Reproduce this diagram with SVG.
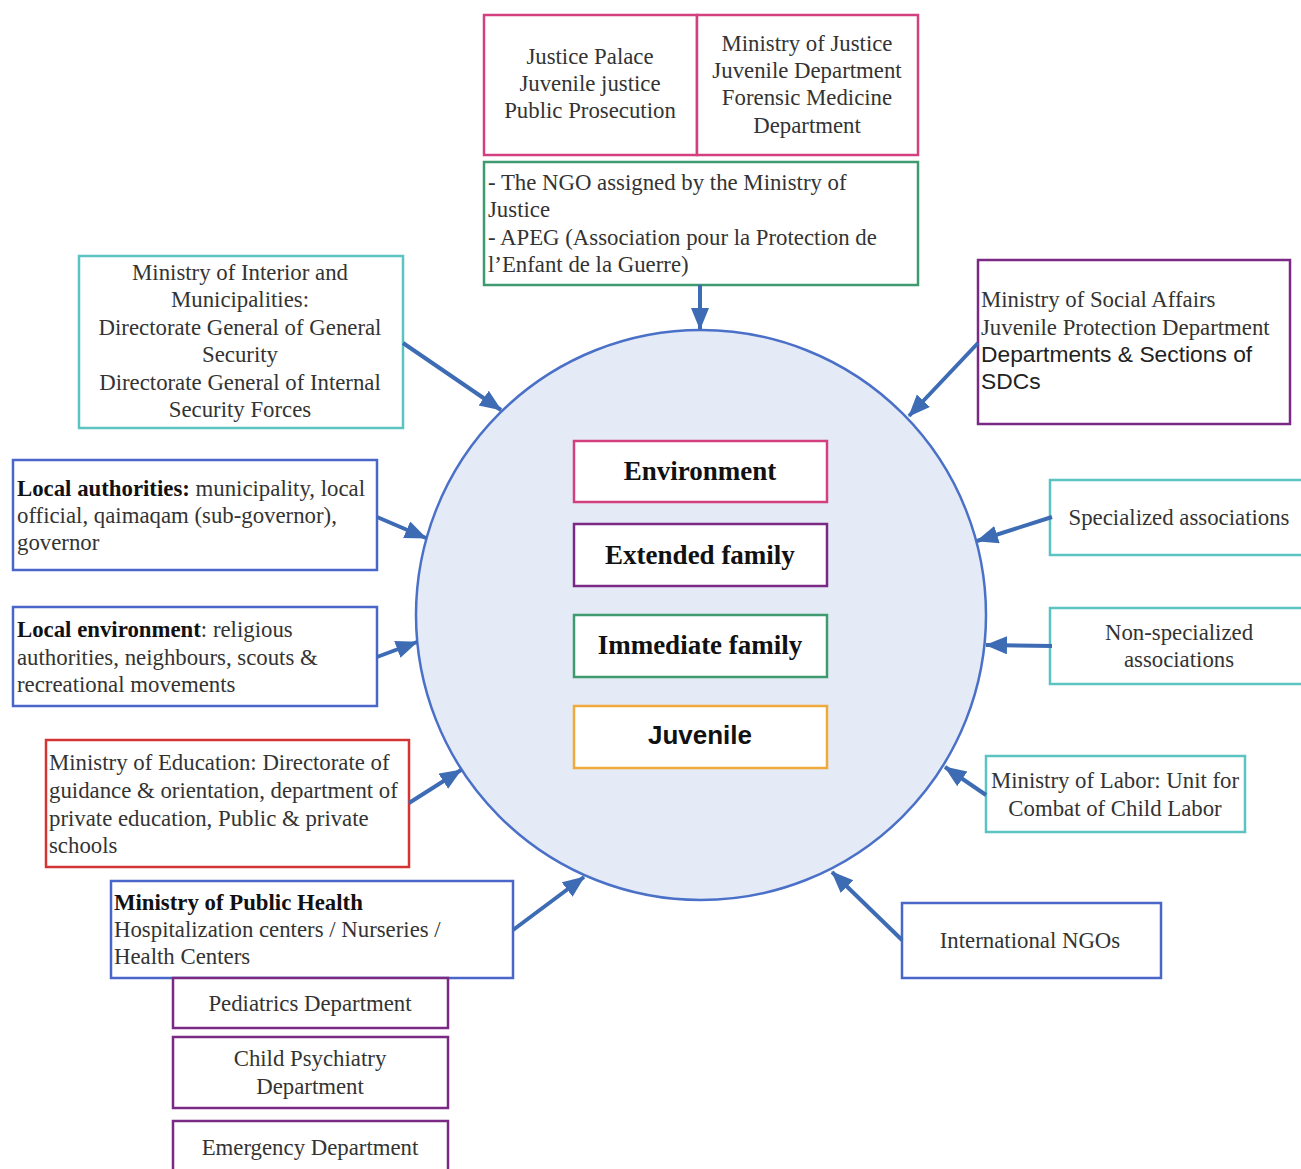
<svg xmlns="http://www.w3.org/2000/svg" width="1301" height="1169" viewBox="0 0 1301 1169">
<defs>
<marker id="ah" markerUnits="userSpaceOnUse" markerWidth="24" markerHeight="20" refX="21" refY="9" orient="auto">
<path d="M0,0 L22,9 L0,18 z" fill="#3d6cb5"/>
</marker>
<style>
.t{font-family:"Liberation Serif","Times New Roman",serif;font-size:22.8px;fill:#333}
.c{text-anchor:middle}
.s{font-family:"Liberation Sans",Arial,sans-serif;font-size:22.8px;fill:#222}
.b{font-weight:bold;fill:#111}
.box{fill:#fff;stroke-width:2.5}
.pink{stroke:#d4407f}
.green{stroke:#3f9a70}
.teal{stroke:#5cc3c3}
.blue{stroke:#4a66c9}
.red{stroke:#d33535}
.purple{stroke:#7a2a85}
.orange{stroke:#f0aa3c}
.conn line{stroke:#3d6cb5;stroke-width:4;marker-end:url(#ah)}
.ct{font-size:27px;font-weight:bold;fill:#111}
</style>
</defs>
<rect width="1301" height="1169" fill="#fff"/>
<g id="circle">
<circle cx="701" cy="615" r="285" fill="#e4ebf6" stroke="#4a70c8" stroke-width="2.5"/>
</g>
<g id="environment"><rect class="box pink" x="574" y="441" width="253" height="61"/><text class="t c ct" x="700" y="480">Environment</text></g>
<g id="extended-family"><rect class="box purple" x="574" y="524" width="253" height="62"/><text class="t c ct" x="700" y="564">Extended family</text></g>
<g id="immediate-family"><rect class="box green" x="574" y="615" width="253" height="62"/><text class="t c ct" x="700" y="654">Immediate family</text></g>
<g id="juvenile"><rect class="box orange" x="574" y="706" width="253" height="62"/><text class="s c b" style="font-size:26px" x="700" y="744">Juvenile</text></g>

<g id="justice-palace"><rect class="box pink" x="484" y="15" width="213" height="140"/>
<text class="t c" x="590"><tspan x="590" y="64">Justice Palace</tspan><tspan x="590" y="91">Juvenile justice</tspan><tspan x="590" y="118">Public Prosecution</tspan></text></g>
<g id="ministry-justice"><rect class="box pink" x="697" y="15" width="221" height="140"/>
<text class="t c"><tspan x="807" y="51">Ministry of Justice</tspan><tspan x="807" y="78">Juvenile Department</tspan><tspan x="807" y="105">Forensic Medicine</tspan><tspan x="807" y="133">Department</tspan></text></g>
<g id="ngo-justice"><rect class="box green" x="484" y="162" width="434" height="123"/>
<text class="t"><tspan x="488" y="190">- The NGO assigned by the Ministry of</tspan><tspan x="488" y="217">Justice</tspan><tspan x="488" y="245">- APEG (Association pour la Protection de</tspan><tspan x="488" y="272">l’Enfant de la Guerre)</tspan></text></g>

<g id="interior"><rect class="box teal" x="79" y="256" width="324" height="172"/>
<text class="t c"><tspan x="240" y="280">Ministry of Interior and</tspan><tspan x="240" y="307">Municipalities:</tspan><tspan x="240" y="335">Directorate General of General</tspan><tspan x="240" y="362">Security</tspan><tspan x="240" y="390">Directorate General of Internal</tspan><tspan x="240" y="417">Security Forces</tspan></text></g>
<g id="local-authorities"><rect class="box blue" x="13" y="460" width="364" height="110"/>
<text class="t"><tspan x="17" y="496"><tspan class="b">Local authorities:</tspan> municipality, local</tspan><tspan x="17" y="523">official, qaimaqam (sub-governor),</tspan><tspan x="17" y="550">governor</tspan></text></g>
<g id="local-environment"><rect class="box blue" x="13" y="607" width="364" height="99"/>
<text class="t"><tspan x="17" y="637"><tspan class="b">Local environment</tspan>: religious</tspan><tspan x="17" y="665">authorities, neighbours, scouts &amp;</tspan><tspan x="17" y="692">recreational movements</tspan></text></g>
<g id="education"><rect class="box red" x="46" y="740" width="363" height="127"/>
<text class="t"><tspan x="49" y="770">Ministry of Education: Directorate of</tspan><tspan x="49" y="798">guidance &amp; orientation, department of</tspan><tspan x="49" y="826">private education, Public &amp; private</tspan><tspan x="49" y="853">schools</tspan></text></g>
<g id="public-health"><rect class="box blue" x="111" y="881" width="402" height="97"/>
<text class="t"><tspan x="114" y="910" class="b">Ministry of Public Health</tspan><tspan x="114" y="937">Hospitalization centers / Nurseries /</tspan><tspan x="114" y="964">Health Centers</tspan></text></g>
<g id="pediatrics"><rect class="box purple" x="173" y="978" width="275" height="50"/>
<text class="t c" x="310" y="1011">Pediatrics Department</text></g>
<g id="child-psychiatry"><rect class="box purple" x="173" y="1037" width="275" height="71"/>
<text class="t c"><tspan x="310" y="1066">Child Psychiatry</tspan><tspan x="310" y="1094">Department</tspan></text></g>
<g id="emergency"><rect class="box purple" x="173" y="1121" width="275" height="60"/>
<text class="t c" x="310" y="1155">Emergency Department</text></g>

<g id="social-affairs"><rect class="box purple" x="978" y="260" width="312" height="164"/>
<text class="t"><tspan x="981" y="307">Ministry of Social Affairs</tspan><tspan x="981" y="335">Juvenile Protection Department</tspan></text>
<text class="s"><tspan x="981" y="362">Departments &amp; Sections of</tspan><tspan x="981" y="389">SDCs</tspan></text></g>
<g id="specialized"><rect class="box teal" x="1050" y="480" width="260" height="75"/>
<text class="t c" x="1179" y="525">Specialized associations</text></g>
<g id="non-specialized"><rect class="box teal" x="1050" y="608" width="260" height="76"/>
<text class="t c"><tspan x="1179" y="640">Non-specialized</tspan><tspan x="1179" y="667">associations</tspan></text></g>
<g id="labor"><rect class="box teal" x="986" y="756" width="259" height="76"/>
<text class="t c"><tspan x="1115" y="788">Ministry of Labor: Unit for</tspan><tspan x="1115" y="816">Combat of Child Labor</tspan></text></g>
<g id="international-ngos"><rect class="box blue" x="902" y="903" width="259" height="75"/>
<text class="t c" x="1030" y="948">International NGOs</text></g>

<g id="connectors" class="conn">
<line x1="700" y1="285" x2="700" y2="329"/>
<line x1="403" y1="343" x2="501" y2="410"/>
<line x1="377" y1="517" x2="426" y2="538"/>
<line x1="377" y1="657" x2="417" y2="642"/>
<line x1="409" y1="803" x2="461" y2="770"/>
<line x1="513" y1="930" x2="584" y2="877"/>
<line x1="978" y1="343" x2="909" y2="416"/>
<line x1="1052" y1="517" x2="977" y2="541"/>
<line x1="1052" y1="646" x2="986" y2="645"/>
<line x1="986" y1="795" x2="945" y2="767"/>
<line x1="902" y1="940" x2="832" y2="872"/>
</g>
</svg>
